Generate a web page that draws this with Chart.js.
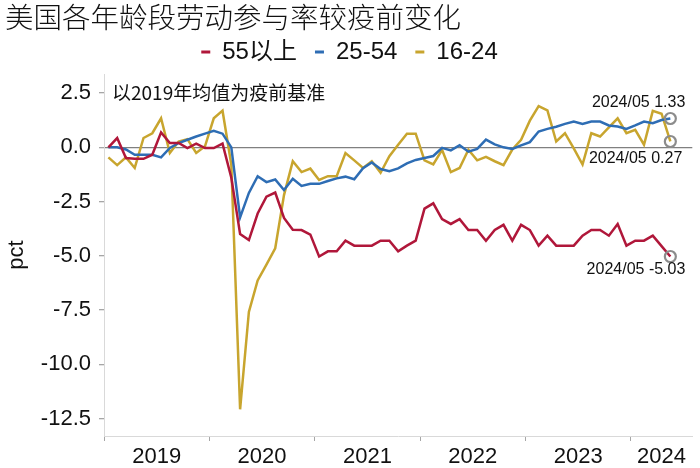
<!DOCTYPE html>
<html>
<head>
<meta charset="utf-8">
<script src="https://cdn.jsdelivr.net/npm/chart.js@4.4.1/dist/chart.umd.min.js"></script>
<style>
  html, body { margin: 0; padding: 0; background: #fff; }
</style>
</head>
<body>
<canvas id="chart" width="700" height="468"></canvas>
<script>
// categories: monthly, 2019/01 .. 2024/05
var years = ['2019', '2020', '2021', '2022', '2023', '2024'];
var months = [];
for (var y = 2019; y <= 2024; y++) {
    for (var m = 1; m <= 12; m++) {
        if (y === 2024 && m > 5) break;
        months.push(y + '/' + (m < 10 ? '0' + m : m));
    }
}

// change vs 2019 average, pct
var over55 = [
    0.00, 0.43, -0.49, -0.53, -0.53, -0.34, 0.69, 0.20, 0.20, -0.03, 0.17, -0.03,
    -0.03, 0.17, -1.40, -3.99, -4.27, -3.05, -2.27, -2.08, -3.25, -3.80, -3.81, -4.02,
    -5.03, -4.79, -4.79, -4.30, -4.53, -4.53, -4.53, -4.30, -4.30, -4.79, -4.53, -4.30,
    -2.82, -2.58, -3.31, -3.53, -3.31, -3.81, -3.81, -4.30, -3.81, -3.57, -4.30, -3.57,
    -3.81, -4.53, -4.07, -4.53, -4.53, -4.53, -4.07, -3.81, -3.81, -4.07, -3.53, -4.53,
    -4.30, -4.30, -4.07, -4.55, -5.03
];
var prime = [
    0.00, 0.00, -0.10, -0.34, -0.34, -0.34, -0.46, -0.03, 0.20, 0.35, 0.50, 0.63,
    0.76, 0.63, 0.00, -3.23, -2.10, -1.33, -1.60, -1.48, -1.97, -1.45, -1.78, -1.68,
    -1.68, -1.55, -1.43, -1.35, -1.47, -0.96, -0.70, -1.00, -1.10, -0.97, -0.74, -0.58,
    -0.49, -0.40, -0.02, -0.14, 0.10, -0.20, -0.07, 0.36, 0.14, 0.00, -0.07, 0.09,
    0.24, 0.73, 0.85, 0.95, 1.08, 1.19, 1.08, 1.19, 1.19, 1.01, 0.96, 0.85,
    1.01, 1.19, 1.11, 1.26, 1.33
];
var youth = [
    -0.46, -0.82, -0.46, -0.95, 0.43, 0.65, 1.34, -0.26, 0.27, 0.38, -0.26, 0.05,
    1.34, 1.69, -0.80, -12.07, -7.58, -6.13, -5.40, -4.65, -2.20, -0.64, -1.14, -0.98,
    -1.50, -1.33, -1.33, -0.26, -0.60, -0.95, -0.64, -1.17, -0.41, 0.12, 0.63, 0.63,
    -0.60, -0.79, -0.11, -1.14, -0.95, -0.11, -0.60, -0.44, -0.64, -0.82, -0.10, 0.35,
    1.23, 1.90, 1.70, 0.27, 0.65, -0.05, -0.79, 0.65, 0.50, 0.92, 1.34, 0.65,
    0.81, 0.12, 1.68, 1.55, 0.27
];

var seriesNames = ['55以上', '25-54', '16-24'];
var yTicks = [2.5, 0, -2.5, -5, -7.5, -10, -12.5];
var axisMonths = 67; // x axis runs to the end of 2024/07

var colors = ['#B0173A', '#2E6DB4', '#C8A52E'];
var noteDy = [13, -16, 17];
var noteDx = [15, 15, 12];

function toPoints(arr) {
    return arr.map(function(v, i) { return { x: i, y: v }; });
}

// year boundaries (tick marks) and year centres (labels)
var xTicks = [];
var xLabelAt = {};
years.forEach(function(yr, k) {
    var start = months.indexOf(yr + '/01') - 0.5;
    var end = k < years.length - 1 ? months.indexOf(years[k + 1] + '/01') - 0.5 : axisMonths - 0.5;
    xTicks.push(start);
    xTicks.push((start + end) / 2);
    xLabelAt[(start + end) / 2] = yr;
});

function makeSet(name, arr, k) {
    var last = arr.length - 1;
    return {
        label: name,
        data: toPoints(arr),
        borderColor: colors[k],
        backgroundColor: colors[k],
        borderWidth: 2.5,
        tension: 0,
        pointRadius: function(ctx) { return ctx.dataIndex === last ? 5.5 : 0; },
        pointBorderColor: '#8C8C8C',
        pointBackgroundColor: 'rgba(0,0,0,0)',
        pointBorderWidth: 2.2,
        noteDy: noteDy[k],
        noteDx: noteDx[k]
    };
}

var notes = {
    id: 'notes',
    afterDraw: function(chart) {
        var ctx = chart.ctx;
        var area = chart.chartArea;
        ctx.save();
        ctx.fillStyle = '#111';
        ctx.textBaseline = 'middle';
        ctx.textAlign = 'left';
        // chart title
        ctx.font = '300 28.5px "Noto Sans CJK SC"';
        ctx.fillText('美国各年龄段劳动参与率较疫前变化', 5, 17);

        ctx.font = '19px "Noto Sans CJK SC"';
        ctx.fillText('以2019年均值为疫前基准', area.left + 8, chart.scales.y.getPixelForValue(2.5));

        ctx.font = '16px "Liberation Sans", Arial, sans-serif';
        ctx.textAlign = 'right';
        chart.data.datasets.forEach(function(ds, i) {
            var idx = ds.data.length - 1;
            var pt = chart.getDatasetMeta(i).data[idx];
            ctx.fillText(months[idx] + ' ' + ds.data[idx].y.toFixed(2), pt.x + ds.noteDx, pt.y + ds.noteDy);
        });
        ctx.restore();
    }
};

new Chart(document.getElementById('chart'), {
    type: 'line',
    data: {
        datasets: [
            makeSet(seriesNames[0], over55, 0),
            makeSet(seriesNames[1], prime, 1),
            makeSet(seriesNames[2], youth, 2)
        ]
    },
    options: {
        responsive: false,
        animation: false,
        devicePixelRatio: 1,
        layout: { padding: { left: 0, right: 1, top: 22, bottom: 0 } },
        plugins: {
            title: { display: false },
            legend: {
                display: true,
                labels: {
                    color: '#111',
                    boxWidth: 9,
                    boxHeight: 3,
                    padding: 18,
                    font: { family: '"Liberation Sans", "Noto Sans CJK SC"', size: 24 },
                    generateLabels: function(chart) {
                        return Chart.defaults.plugins.legend.labels.generateLabels(chart).map(function(l) {
                            l.lineWidth = 0;
                            return l;
                        });
                    }
                }
            },
            tooltip: { enabled: false }
        },
        scales: {
            x: {
                type: 'linear',
                min: -0.5,
                max: axisMonths - 0.5,
                afterBuildTicks: function(scale) {
                    scale.ticks = xTicks.slice().sort(function(a, b) { return a - b; })
                        .map(function(v) { return { value: v }; });
                },
                afterFit: function(scale) { scale.height = 32; },
                ticks: {
                    autoSkip: false,
                    maxRotation: 0,
                    padding: 3,
                    color: '#111',
                    font: { family: '"Liberation Sans", Arial', size: 22 },
                    callback: function(v) { return xLabelAt[v] || ''; }
                },
                grid: {
                    drawOnChartArea: false,
                    drawTicks: true,
                    tickLength: 5,
                    tickColor: function(ctx) {
                        return xLabelAt[ctx.tick.value] ? 'rgba(0,0,0,0)' : '#A6A6A6';
                    }
                },
                border: { color: '#D9D9D9', width: 1 }
            },
            y: {
                min: -13.3,
                max: 3.38,
                afterBuildTicks: function(scale) {
                    scale.ticks = yTicks.map(function(v) { return { value: v }; });
                },
                afterFit: function(scale) { scale.width = 104; },
                title: {
                    display: true,
                    text: 'pct',
                    color: '#111',
                    font: { family: '"Liberation Sans", Arial', size: 22 },
                    padding: { top: 4, bottom: 0 }
                },
                ticks: {
                    padding: 8,
                    color: '#111',
                    font: { family: '"Liberation Sans", Arial', size: 22 },
                    callback: function(v) { return v.toFixed(1); }
                },
                grid: {
                    drawOnChartArea: true,
                    drawTicks: true,
                    tickLength: 5,
                    color: function(ctx) { return ctx.tick && ctx.tick.value === 0 ? '#808080' : 'rgba(0,0,0,0)'; },
                    lineWidth: 1.3,
                    borderDash: [6, 4],
                    tickBorderDash: [],
                    tickColor: '#A6A6A6'
                },
                border: { color: '#D9D9D9', width: 1 }
            }
        }
    },
    plugins: [notes]
});
</script>
</body>
</html>
